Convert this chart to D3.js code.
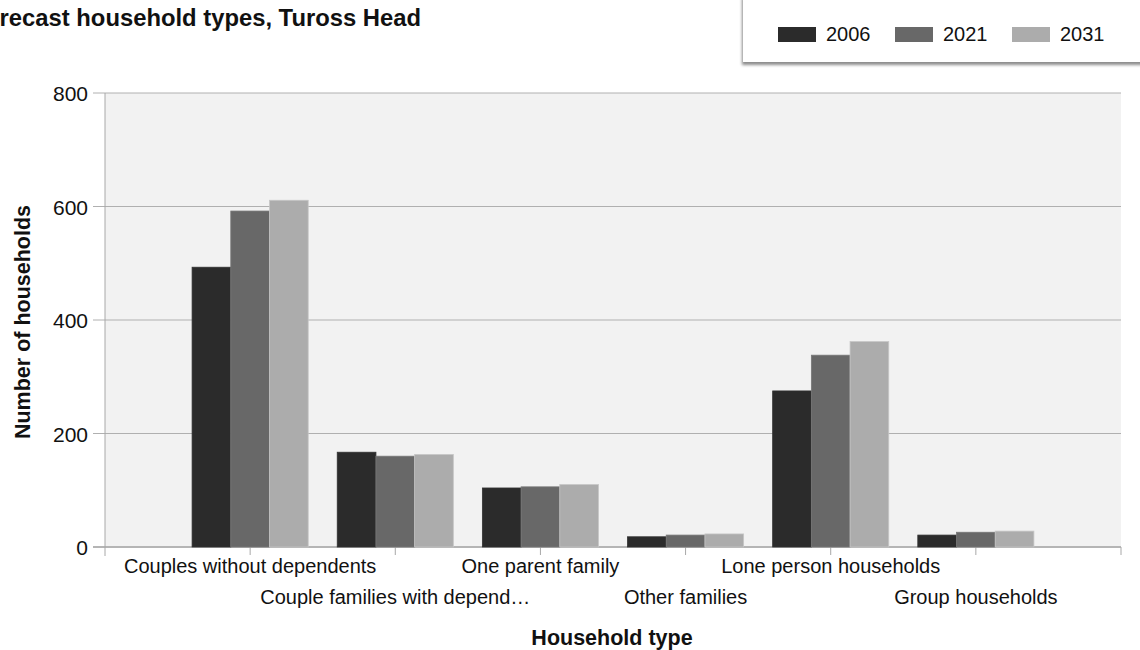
<!DOCTYPE html>
<html lang="en">
<head>
<meta charset="UTF-8">
<title>Forecast household types, Tuross Head</title>
<script src="https://d3js.org/d3.v7.min.js"></script>
<style>
    body { margin: 0; padding: 0; background: #fff; overflow: hidden; }
    svg { font-family: "Liberation Sans", Arial, sans-serif; display: block; }
    .tick-label { font-size: 21px; fill: #111; }
    .cat-label { font-size: 20px; fill: #111; }
    .axis-title { font-size: 21.5px; font-weight: bold; fill: #111; }
</style>
</head>
<body>
<svg width="1140" height="650"></svg>
<script>
    // chart data
    const categories = ["Couples without dependents", "Couple families with depend\u2026", "One parent family",
        "Other families", "Lone person households", "Group households"];
    const years = ["2006", "2021", "2031"];
    const values2006 = [493, 167, 104, 18, 275, 21];
    const values2021 = [592, 160, 106, 21, 338, 26];
    const values2031 = [611, 163, 110, 23, 362, 28];
    const yTicks = [0, 200, 400, 600, 800];
    const colors = ["#2b2b2b", "#686868", "#acacac"];

    const series = [values2006, values2021, values2031];

    const svg = d3.select("svg");
    const plotL = 105, plotR = 1121, plotT = 93, plotB = 547;

    // categories sit on positions 1..6 of a 0..7 axis
    const x = d3.scaleLinear().domain([0, categories.length + 1]).range([plotL, plotR]);
    const y = d3.scaleLinear().domain([0, 800]).range([plotB, plotT]);
    const barW = 38.7;

    // plot background
    svg.append("rect")
        .attr("x", plotL).attr("y", plotT)
        .attr("width", plotR - plotL).attr("height", plotB - plotT)
        .attr("fill", "#f2f2f2");

    // horizontal grid + y labels
    const yg = svg.append("g");
    yg.selectAll("line").data(yTicks).enter().append("line")
        .attr("x1", plotL - 12).attr("x2", plotR)
        .attr("y1", d => y(d)).attr("y2", d => y(d))
        .attr("stroke", d => d === 0 ? "#b5b5b5" : "#b0b0b0")
        .attr("stroke-width", d => d === 0 ? 2 : 1);
    yg.selectAll("text").data(yTicks).enter().append("text")
        .attr("class", "tick-label")
        .attr("x", plotL - 17).attr("y", d => y(d) + 8)
        .attr("text-anchor", "end")
        .text(d => d);

    // left axis line
    svg.append("line")
        .attr("x1", plotL).attr("x2", plotL)
        .attr("y1", plotT).attr("y2", plotB + 9)
        .attr("stroke", "#a8a8a8");

    // x ticks
    svg.append("g").selectAll("line")
        .data(d3.range(1, categories.length + 2))
        .enter().append("line")
        .attr("x1", d => x(d)).attr("x2", d => x(d))
        .attr("y1", plotB).attr("y2", plotB + 8)
        .attr("stroke", "#a8a8a8");

    // bars
    series.forEach((vals, si) => {
        svg.append("g").selectAll("rect")
            .data(vals)
            .enter().append("rect")
            .attr("x", (d, i) => x(i + 1) + (si - 1.5) * barW)
            .attr("y", d => y(d))
            .attr("width", barW)
            .attr("height", d => plotB - y(d))
            .attr("fill", colors[si])
            .attr("stroke", d3.color(colors[si]).brighter(0.4))
            .attr("stroke-width", 0.8);
    });

    // category labels, alternating rows
    svg.append("g").selectAll("text")
        .data(categories)
        .enter().append("text")
        .attr("class", "cat-label")
        .attr("x", (d, i) => x(i + 1))
        .attr("y", (d, i) => i % 2 === 0 ? 573 : 604)
        .attr("text-anchor", "middle")
        .text(d => d);

    // axis titles
    svg.append("text")
        .attr("class", "axis-title")
        .attr("x", 612).attr("y", 645)
        .attr("text-anchor", "middle")
        .text("Household type");
    svg.append("text")
        .attr("class", "axis-title")
        .attr("transform", "translate(30,322) rotate(-90)")
        .attr("text-anchor", "middle")
        .text("Number of households");

    // title (clipped at left edge)
    svg.append("text")
        .attr("x", 421).attr("y", 26)
        .attr("text-anchor", "end")
        .style("font-size", "23.8px")
        .style("font-weight", "bold")
        .attr("fill", "#111")
        .text("Forecast household types, Tuross Head");

    // legend box with shadow
    const defs = svg.append("defs");
    const f = defs.append("filter").attr("id", "shadow")
        .attr("x", "-10%").attr("y", "-10%").attr("width", "120%").attr("height", "140%");
    f.append("feDropShadow").attr("dx", -1).attr("dy", 3).attr("stdDeviation", 1.8)
        .attr("flood-color", "#000").attr("flood-opacity", 0.45);

    svg.append("rect")
        .attr("x", 743).attr("y", -5)
        .attr("width", 410).attr("height", 67)
        .attr("fill", "#fff")
        .attr("filter", "url(#shadow)");

    const legend = svg.append("g").selectAll("g")
        .data(years)
        .enter().append("g")
        .attr("transform", (d, i) => `translate(${778 + i * 117},27)`);
    legend.append("rect")
        .attr("width", 38).attr("height", 15)
        .attr("fill", (d, i) => colors[i]);
    legend.append("text")
        .attr("x", 48).attr("y", 14)
        .style("font-size", "20px")
        .attr("fill", "#111")
        .text(d => d);
</script>
</body>
</html>
